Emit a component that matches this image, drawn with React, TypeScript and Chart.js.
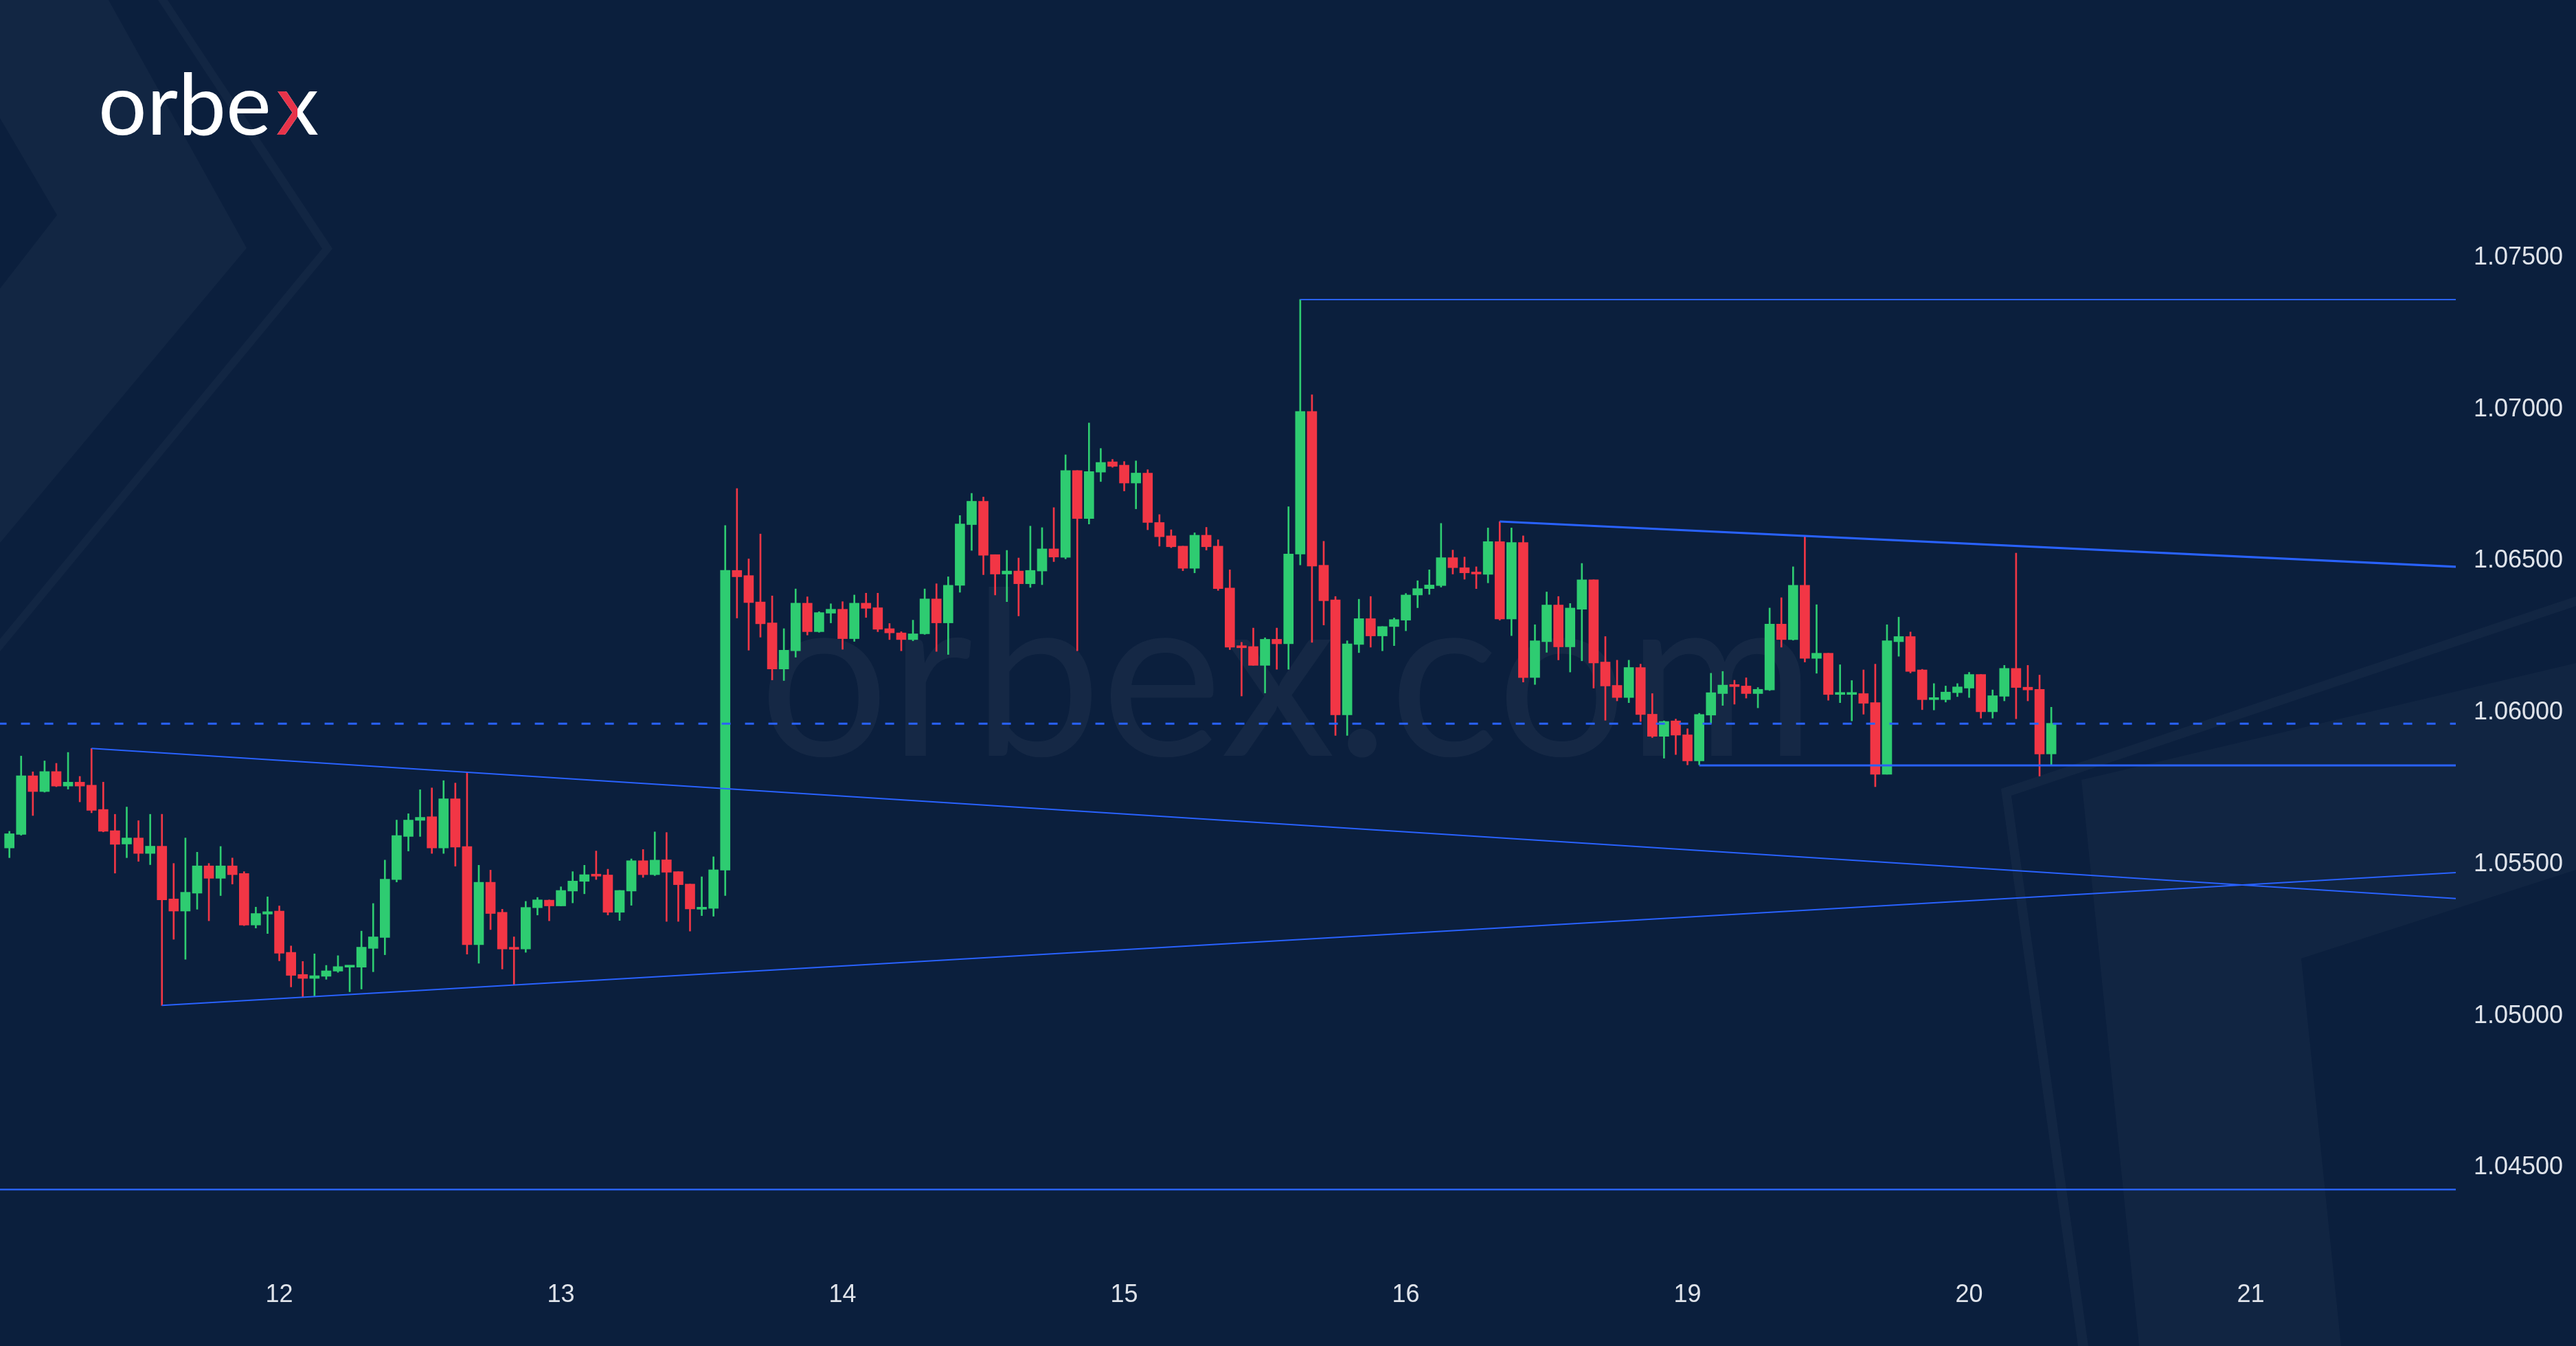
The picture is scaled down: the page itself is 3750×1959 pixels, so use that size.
import React, { useEffect, useRef } from 'react';
import { Chart, registerables } from 'chart.js';

Chart.register(...registerables);

// ---- EURUSD hourly candles (index 0 = first visible bar) ----
const openPrices = [
  1.05554, 1.05599, 1.05792, 1.05740, 1.05806, 1.05758, 1.05771, 1.05761, 1.05681, 1.05611,
  1.05567, 1.05587, 1.05536, 1.05560, 1.05386, 1.05346, 1.05405, 1.05495, 1.05454, 1.05495,
  1.05470, 1.05300, 1.05336, 1.05346, 1.05210, 1.05137, 1.05124, 1.05131, 1.05148, 1.05161,
  1.05161, 1.05223, 1.05259, 1.05450, 1.05592, 1.05645, 1.05657, 1.05554, 1.05716, 1.05559,
  1.05235, 1.05441, 1.05342, 1.05223, 1.05221, 1.05357, 1.05382, 1.05363, 1.05412, 1.05444,
  1.05466, 1.05465, 1.05342, 1.05412, 1.05512, 1.05466, 1.05515, 1.05476, 1.05435, 1.05352,
  1.05355, 1.05481, 1.06469, 1.06452, 1.06365, 1.06296, 1.06144, 1.06204, 1.06361, 1.06267,
  1.06328, 1.06341, 1.06244, 1.06361, 1.06346, 1.06277, 1.06263, 1.06241, 1.06260, 1.06375,
  1.06296, 1.06420, 1.06620, 1.06697, 1.06521, 1.06457, 1.06467, 1.06425, 1.06467, 1.06540,
  1.06512, 1.06798, 1.06640, 1.06793, 1.06827, 1.06816, 1.06757, 1.06790, 1.06627, 1.06583,
  1.06549, 1.06476, 1.06585, 1.06549, 1.06411, 1.06218, 1.06218, 1.06156, 1.06242, 1.06227,
  1.06523, 1.06993, 1.06486, 1.06372, 1.05993, 1.06225, 1.06310, 1.06253, 1.06284, 1.06305,
  1.06388, 1.06409, 1.06419, 1.06511, 1.06478, 1.06462, 1.06456, 1.06564, 1.06309, 1.06561,
  1.06116, 1.06234, 1.06355, 1.06217, 1.06341, 1.06438, 1.06167, 1.06090, 1.06050, 1.06149,
  1.05995, 1.05922, 1.05973, 1.05927, 1.05841, 1.05992, 1.06063, 1.06091, 1.06088, 1.06063,
  1.06075, 1.06292, 1.06241, 1.06420, 1.06179, 1.06196, 1.06060, 1.06060, 1.06063, 1.06033,
  1.05797, 1.06234, 1.06251, 1.06141, 1.06043, 1.06043, 1.06066, 1.06081, 1.06126, 1.06003,
  1.06054, 1.06146, 1.06084, 1.06077, 1.05864,
];
const highPrices = [
  1.05609, 1.05857, 1.05805, 1.05841, 1.05833, 1.05869, 1.05790, 1.05882, 1.05771, 1.05665,
  1.05689, 1.05644, 1.05665, 1.05665, 1.05503, 1.05587, 1.05540, 1.05503, 1.05559, 1.05521,
  1.05476, 1.05359, 1.05393, 1.05363, 1.05231, 1.05180, 1.05205, 1.05167, 1.05199, 1.05164,
  1.05280, 1.05371, 1.05514, 1.05646, 1.05667, 1.05746, 1.05752, 1.05776, 1.05768, 1.05805,
  1.05497, 1.05481, 1.05352, 1.05261, 1.05378, 1.05391, 1.05383, 1.05426, 1.05476, 1.05497,
  1.05544, 1.05484, 1.05414, 1.05518, 1.05549, 1.05607, 1.05605, 1.05476, 1.05435, 1.05459,
  1.05525, 1.06617, 1.06739, 1.06507, 1.06589, 1.06385, 1.06277, 1.06408, 1.06382, 1.06333,
  1.06359, 1.06366, 1.06388, 1.06394, 1.06394, 1.06294, 1.06267, 1.06305, 1.06408, 1.06425,
  1.06448, 1.06650, 1.06723, 1.06711, 1.06521, 1.06535, 1.06510, 1.06615, 1.06610, 1.06676,
  1.06850, 1.06798, 1.06955, 1.06871, 1.06835, 1.06828, 1.06830, 1.06801, 1.06653, 1.06603,
  1.06549, 1.06593, 1.06611, 1.06570, 1.06471, 1.06232, 1.06279, 1.06247, 1.06279, 1.06679,
  1.07362, 1.07048, 1.06565, 1.06383, 1.06237, 1.06374, 1.06383, 1.06284, 1.06312, 1.06393,
  1.06435, 1.06471, 1.06624, 1.06536, 1.06513, 1.06481, 1.06609, 1.06630, 1.06609, 1.06583,
  1.06290, 1.06398, 1.06383, 1.06360, 1.06492, 1.06438, 1.06251, 1.06173, 1.06173, 1.06160,
  1.06063, 1.05973, 1.05979, 1.05947, 1.05998, 1.06130, 1.06136, 1.06107, 1.06115, 1.06083,
  1.06345, 1.06379, 1.06481, 1.06583, 1.06356, 1.06196, 1.06158, 1.06106, 1.06141, 1.06160,
  1.06290, 1.06315, 1.06266, 1.06143, 1.06096, 1.06088, 1.06096, 1.06133, 1.06126, 1.06075,
  1.06156, 1.06526, 1.06156, 1.06124, 1.06018,
];
const lowPrices = [
  1.05522, 1.05596, 1.05661, 1.05738, 1.05756, 1.05748, 1.05706, 1.05670, 1.05607, 1.05471,
  1.05522, 1.05510, 1.05499, 1.05035, 1.05253, 1.05187, 1.05352, 1.05314, 1.05397, 1.05435,
  1.05298, 1.05290, 1.05272, 1.05182, 1.05096, 1.05063, 1.05066, 1.05121, 1.05144, 1.05080,
  1.05089, 1.05146, 1.05202, 1.05442, 1.05544, 1.05592, 1.05536, 1.05536, 1.05494, 1.05204,
  1.05174, 1.05285, 1.05155, 1.05102, 1.05210, 1.05333, 1.05314, 1.05363, 1.05373, 1.05403,
  1.05450, 1.05333, 1.05315, 1.05365, 1.05457, 1.05463, 1.05312, 1.05312, 1.05280, 1.05331,
  1.05329, 1.05397, 1.06312, 1.06206, 1.06249, 1.06108, 1.06106, 1.06183, 1.06256, 1.06265,
  1.06296, 1.06209, 1.06235, 1.06314, 1.06267, 1.06241, 1.06204, 1.06237, 1.06258, 1.06202,
  1.06192, 1.06397, 1.06535, 1.06455, 1.06388, 1.06366, 1.06319, 1.06413, 1.06422, 1.06498,
  1.06507, 1.06204, 1.06622, 1.06762, 1.06809, 1.06731, 1.06672, 1.06603, 1.06549, 1.06544,
  1.06468, 1.06461, 1.06536, 1.06403, 1.06208, 1.06055, 1.06156, 1.06065, 1.06143, 1.06143,
  1.06487, 1.06232, 1.06289, 1.05925, 1.05925, 1.06198, 1.06216, 1.06204, 1.06221, 1.06270,
  1.06346, 1.06390, 1.06414, 1.06457, 1.06440, 1.06409, 1.06428, 1.06305, 1.06254, 1.06101,
  1.06093, 1.06199, 1.06174, 1.06134, 1.06171, 1.06081, 1.05975, 1.06039, 1.06033, 1.05971,
  1.05918, 1.05850, 1.05862, 1.05828, 1.05828, 1.05965, 1.06024, 1.06028, 1.06048, 1.06016,
  1.06073, 1.06216, 1.06239, 1.06167, 1.06130, 1.06041, 1.06033, 1.05973, 1.05995, 1.05756,
  1.05797, 1.06186, 1.06131, 1.06010, 1.06009, 1.06035, 1.06053, 1.06050, 1.05982, 1.05982,
  1.06039, 1.05980, 1.06039, 1.05791, 1.05828,
];
const closePrices = [
  1.05601, 1.05792, 1.05740, 1.05806, 1.05758, 1.05771, 1.05758, 1.05678, 1.05609, 1.05566,
  1.05587, 1.05536, 1.05560, 1.05383, 1.05346, 1.05408, 1.05495, 1.05454, 1.05495, 1.05466,
  1.05300, 1.05338, 1.05344, 1.05207, 1.05134, 1.05124, 1.05133, 1.05149, 1.05163, 1.05164,
  1.05227, 1.05261, 1.05451, 1.05595, 1.05646, 1.05655, 1.05554, 1.05716, 1.05557, 1.05235,
  1.05441, 1.05338, 1.05221, 1.05220, 1.05358, 1.05383, 1.05363, 1.05414, 1.05445, 1.05466,
  1.05461, 1.05342, 1.05414, 1.05512, 1.05466, 1.05514, 1.05474, 1.05433, 1.05353, 1.05358,
  1.05482, 1.06469, 1.06448, 1.06363, 1.06293, 1.06144, 1.06206, 1.06361, 1.06267, 1.06330,
  1.06341, 1.06244, 1.06361, 1.06344, 1.06275, 1.06263, 1.06241, 1.06260, 1.06375, 1.06296,
  1.06420, 1.06622, 1.06697, 1.06519, 1.06457, 1.06467, 1.06425, 1.06469, 1.06540, 1.06513,
  1.06798, 1.06640, 1.06795, 1.06825, 1.06812, 1.06757, 1.06790, 1.06627, 1.06580, 1.06547,
  1.06476, 1.06585, 1.06547, 1.06409, 1.06216, 1.06214, 1.06156, 1.06242, 1.06227, 1.06523,
  1.06993, 1.06483, 1.06369, 1.05993, 1.06227, 1.06310, 1.06253, 1.06284, 1.06307, 1.06388,
  1.06409, 1.06421, 1.06511, 1.06478, 1.06461, 1.06457, 1.06564, 1.06309, 1.06561, 1.06116,
  1.06237, 1.06355, 1.06217, 1.06345, 1.06438, 1.06164, 1.06088, 1.06050, 1.06149, 1.05994,
  1.05922, 1.05971, 1.05926, 1.05841, 1.05994, 1.06066, 1.06091, 1.06086, 1.06063, 1.06077,
  1.06292, 1.06241, 1.06420, 1.06179, 1.06196, 1.06060, 1.06063, 1.06063, 1.06031, 1.05797,
  1.06237, 1.06251, 1.06136, 1.06043, 1.06047, 1.06068, 1.06085, 1.06126, 1.06003, 1.06056,
  1.06146, 1.06083, 1.06075, 1.05864, 1.05965,
];

// ---- axis ticks ----
const dayTickIndex = [23, 47, 71, 95, 119, 143, 167, 191];
const dayTickLabels = ['12', '13', '14', '15', '16', '19', '20', '21'];
const priceTicks = [1.045, 1.05, 1.055, 1.06, 1.065, 1.07, 1.075];

// ---- drawn analysis lines: [barIndex, price] pairs ----
const wedgeUpper = [[7, 1.05882], [208.5, 1.05387]];
const wedgeLower = [[13, 1.05035], [208.5, 1.05473]];
const spikeHigh = [[110, 1.07362], [208.5, 1.07362]];
const channelUpper = [[127, 1.0663], [208.5, 1.06481]];
const rangeSupport = [[144, 1.05826], [208.5, 1.05826]];
const pivotLevel = [[-1, 1.05964], [208.5, 1.05964]];
const deepSupport = [[-1, 1.04428], [208.5, 1.04428]];

// ---- view ----
const X_MIN = -0.8;
const X_MAX = 208.47;
const Y_MIN = 1.041818;
const Y_MAX = 1.083494;

const BG = '#0b1f3d';
const GREEN = '#2ecc71';
const RED = '#f23645';
const BLUE = '#2962ff';
const TEXT = '#dfe3ea';

function poly(ctx: CanvasRenderingContext2D, pts: number[][], color: string) {
  ctx.beginPath();
  pts.forEach(([x, y], i) => (i ? ctx.lineTo(x, y) : ctx.moveTo(x, y)));
  ctx.closePath();
  ctx.fillStyle = color;
  ctx.fill();
}

const decorPlugin = {
  id: 'orbexDecor',
  beforeDraw(chart: any) {
    const ctx: CanvasRenderingContext2D = chart.ctx;
    const W = chart.width;
    const H = chart.height;
    ctx.save();
    ctx.fillStyle = BG;
    ctx.fillRect(0, 0, W, H);
    const light = 'rgba(255,255,255,0.032)';
    // top-left chevrons
    poly(ctx, [[0, 0], [158, 0], [359, 361], [0, 790]], light);
    poly(ctx, [[0, 172], [83, 313], [0, 420]], BG);
    poly(ctx, [[230, 0], [244, 0], [484, 362], [0, 948], [0, 930], [469, 362]], light);
    // bottom-right shape
    poly(ctx, [[2913, 1148], [3750, 868], [3750, 882], [2928, 1158], [3040, 1959], [3025, 1959]], light);
    poly(ctx, [[3030, 1135], [3750, 965], [3750, 1266], [3350, 1395], [3408, 1959], [3114, 1959]], 'rgba(255,255,255,0.028)');
    // watermark
    ctx.fillStyle = 'rgba(255,255,255,0.045)';
    let fs = 350;
    ctx.font = `400 ${fs}px Lato, "Open Sans", sans-serif`;
    const w0 = ctx.measureText('orbex.com').width;
    fs = (fs * 1538) / w0;
    ctx.font = `400 ${fs}px Lato, "Open Sans", sans-serif`;
    ctx.textBaseline = 'alphabetic';
    ctx.textAlign = 'left';
    ctx.fillText('orbex.com', 1105, 1100);
    ctx.restore();
  },
  afterDraw(chart: any) {
    const ctx: CanvasRenderingContext2D = chart.ctx;
    ctx.save();
    let fs = 126;
    ctx.font = `400 ${fs}px Lato, "Open Sans", sans-serif`;
    const w0 = ctx.measureText('orbe').width;
    fs = (fs * 252) / w0;
    ctx.font = `400 ${fs}px Lato, "Open Sans", sans-serif`;
    ctx.textBaseline = 'alphabetic';
    ctx.textAlign = 'left';
    ctx.fillStyle = '#ffffff';
    ctx.fillText('orbe', 143, 196);
    const xw = ctx.measureText('x').width;
    const xl = 402;
    ctx.fillText('x', xl, 196);
    ctx.beginPath();
    ctx.rect(xl - 5, 100, xw / 2 + 5, 120);
    ctx.clip();
    ctx.fillStyle = '#e8334a';
    ctx.fillText('x', xl, 196);
    ctx.restore();
  },
};

export default function App() {
  const ref = useRef<HTMLCanvasElement>(null);

  useEffect(() => {
    const canvas = ref.current;
    if (!canvas) return;
    document.body.style.margin = '0';
    document.body.style.background = BG;

    const idx = openPrices.map((_, i) => i);
    const colors = idx.map((i) => (closePrices[i] >= openPrices[i] ? GREEN : RED));
    const wickData = idx.map((i) => ({ x: i, y: [lowPrices[i], highPrices[i]] }));
    const bodyData = idx.map((i) => ({
      x: i,
      y: [Math.min(openPrices[i], closePrices[i]), Math.max(openPrices[i], closePrices[i])],
    }));

    const lineDs = (pts: number[][], width: number, dash: number[] = []) => ({
      type: 'line' as const,
      data: pts.map(([x, y]) => ({ x, y })),
      borderColor: BLUE,
      borderWidth: width,
      borderDash: dash,
      pointRadius: 0,
      fill: false,
      tension: 0,
      order: 0,
    });

    const font = { family: '"Liberation Sans", Arial, sans-serif', size: 36 };

    const chart = new Chart(canvas, {
      type: 'bar',
      data: {
        datasets: [
          lineDs(wedgeUpper, 2),
          lineDs(wedgeLower, 2),
          lineDs(spikeHigh, 2),
          lineDs(channelUpper, 3),
          lineDs(rangeSupport, 3),
          lineDs(pivotLevel, 3, [13, 21]),
          lineDs(deepSupport, 2.5),
          {
            type: 'bar' as const,
            data: bodyData as any,
            backgroundColor: colors,
            borderWidth: 0,
            barThickness: 14,
            minBarLength: 3,
            grouped: false,
            order: 1,
          },
          {
            type: 'bar' as const,
            data: wickData as any,
            backgroundColor: colors,
            borderWidth: 0,
            barThickness: 2,
            grouped: false,
            order: 2,
          },
        ] as any,
      },
      options: {
        animation: false,
        responsive: false,
        devicePixelRatio: 1,
        events: [],
        layout: { padding: 0 },
        plugins: { legend: { display: false }, tooltip: { enabled: false } },
        scales: {
          x: {
            type: 'linear',
            min: X_MIN,
            max: X_MAX,
            bounds: 'data',
            offset: false,
            grid: { display: false, drawTicks: false },
            border: { display: false },
            afterBuildTicks: (s: any) => {
              s.ticks = dayTickIndex.map((v) => ({ value: v }));
            },
            afterFit: (s: any) => {
              s.height = 119;
              s.paddingLeft = 0;
              s.paddingRight = 0;
            },
            ticks: {
              autoSkip: false,
              maxRotation: 0,
              padding: 23,
              color: TEXT,
              font,
              callback: (v: any) => {
                const k = dayTickIndex.indexOf(Number(v));
                return k >= 0 ? dayTickLabels[k] : '';
              },
            },
          },
          y: {
            type: 'linear',
            position: 'right',
            min: Y_MIN,
            max: Y_MAX,
            bounds: 'data',
            grid: { display: false, drawTicks: false },
            border: { display: false },
            afterBuildTicks: (s: any) => {
              s.ticks = priceTicks.map((v) => ({ value: v }));
            },
            afterFit: (s: any) => {
              s.width = 175;
              s.paddingTop = 0;
              s.paddingBottom = 0;
            },
            ticks: {
              autoSkip: false,
              padding: 26,
              color: TEXT,
              font,
              callback: (v: any) => Number(v).toFixed(5),
            },
          },
        },
      } as any,
      plugins: [decorPlugin],
    });
    return () => chart.destroy();
  }, []);

  return (
    <div style={{ position: 'fixed', left: 0, top: 0, width: 3750, height: 1959, background: BG }}>
      <canvas ref={ref} width={3750} height={1959} style={{ display: 'block', width: 3750, height: 1959 }} />
    </div>
  );
}
